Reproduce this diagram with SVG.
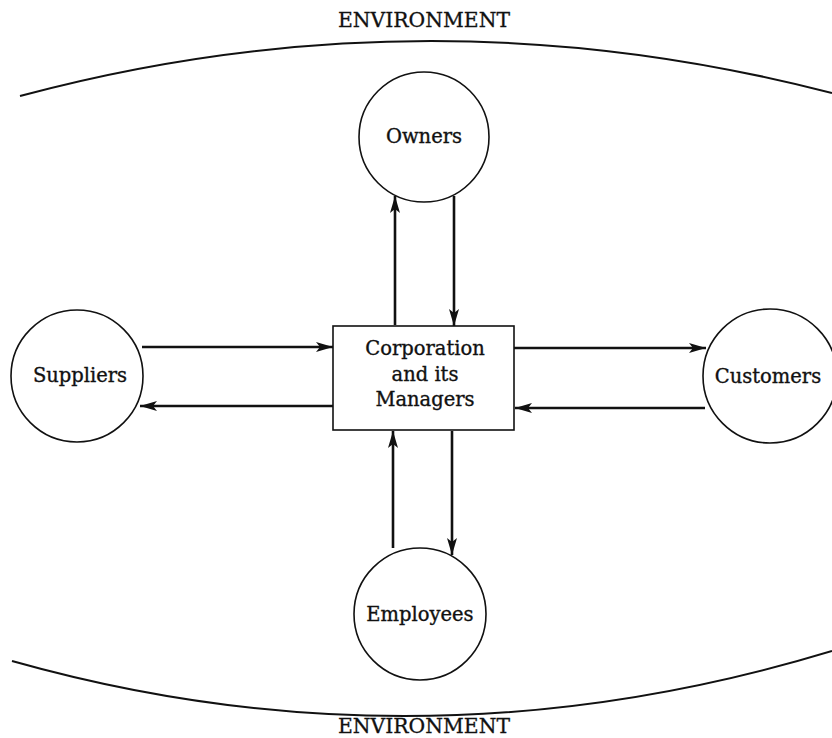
<svg xmlns="http://www.w3.org/2000/svg" width="832" height="738" viewBox="0 0 832 738">
  <style>
    .bg { fill: #ffffff; }
    .node { fill: #ffffff; stroke: #111111; stroke-width: 1.6; }
    .env { fill: none; stroke: #111111; stroke-width: 2; }
    .label { font-family: "DejaVu Serif", "Liberation Serif", serif; font-size: 19.5px; fill: #111111; stroke: #111111; stroke-width: 0.35; text-anchor: middle; }
    .title { font-family: "DejaVu Serif", "Liberation Serif", serif; font-size: 20px; fill: #111111; stroke: #111111; stroke-width: 0.3; text-anchor: middle; }
    .flow { fill: none; stroke: #111111; stroke-width: 2.6; marker-end: url(#head); }
  </style>
  <defs>
    <marker id="head" markerWidth="18" markerHeight="12" refX="17" refY="6" orient="auto" markerUnits="userSpaceOnUse">
      <path d="M0,1 L17,6 L0,11 L4,6 Z" fill="#111111"/>
    </marker>
  </defs>
  <rect class="bg" x="0" y="0" width="832" height="738"/>

  <!-- environment boundary -->
  <g id="environment">
    <path class="env" d="M20,96 Q425,-12.5 832,93"/>
    <path class="env" d="M12,661 Q420,776 832,651"/>
    <text class="title" x="424" y="27" textLength="172" lengthAdjust="spacingAndGlyphs">ENVIRONMENT</text>
    <text class="title" x="424" y="733" textLength="172" lengthAdjust="spacingAndGlyphs">ENVIRONMENT</text>
  </g>

  <!-- connectors -->
  <g id="connectors">
    <line class="flow" x1="395" y1="325" x2="395" y2="196"/>
    <line class="flow" x1="454" y1="196" x2="454" y2="326"/>
    <line class="flow" x1="393" y1="548" x2="393" y2="431"/>
    <line class="flow" x1="452" y1="431" x2="452" y2="555"/>
    <line class="flow" x1="142" y1="347" x2="333" y2="347"/>
    <line class="flow" x1="333" y1="406" x2="140" y2="406"/>
    <line class="flow" x1="514" y1="348" x2="706" y2="348"/>
    <line class="flow" x1="705" y1="408" x2="515" y2="408"/>
  </g>

  <g id="owners">
    <circle class="node" cx="424" cy="137" r="65"/>
    <text class="label" x="424" y="143">Owners</text>
  </g>

  <g id="suppliers">
    <circle class="node" cx="77" cy="376" r="66"/>
    <text class="label" x="80" y="382">Suppliers</text>
  </g>

  <g id="customers">
    <circle class="node" cx="770" cy="376" r="67"/>
    <text class="label" x="768" y="383">Customers</text>
  </g>

  <g id="employees">
    <circle class="node" cx="420" cy="614" r="66"/>
    <text class="label" x="420" y="621">Employees</text>
  </g>

  <g id="corporation">
    <rect class="node" x="333" y="326" width="181" height="104"/>
    <text class="label" x="425" y="355">Corporation</text>
    <text class="label" x="425" y="381">and its</text>
    <text class="label" x="425" y="406">Managers</text>
  </g>
</svg>
